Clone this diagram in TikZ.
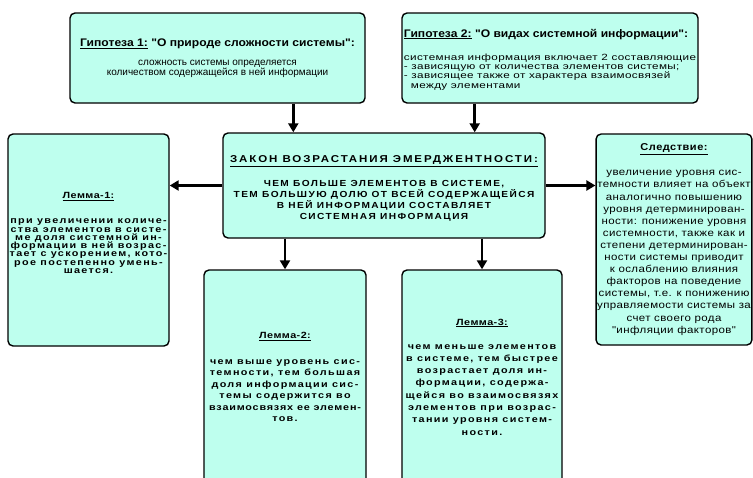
\documentclass[tikz,border=0pt]{standalone}
\usepackage{fontspec}
\setmainfont{Liberation Sans}[Ligatures=TeXOff]
\usetikzlibrary{arrows.meta}
\definecolor{boxfill}{RGB}{190,255,238}
\setlength{\lineskiplimit}{-20pt}
\newcommand{\hypfont}{\bfseries\fontsize{11}{11}\selectfont\addfontfeatures{FakeStretch=1.1,LetterSpace=0}}
\newcommand{\lemfont}{\bfseries\fontsize{9}{9}\selectfont\addfontfeatures{FakeStretch=1.2,LetterSpace=5}}
\tikzset{
  box/.style = {draw, line width=1.4pt, rounded corners=5pt, fill=boxfill,
    align=center, inner sep=1pt},
  link/.style = {line width=2.6pt, -{Triangle[length=9pt,width=10pt]}},
  lemtext/.style = {font={\bfseries\fontsize{9}{#1}\selectfont\addfontfeatures{FakeStretch=1.2,LetterSpace=15}}},
}
\begin{document}
\begin{tikzpicture}[x=1pt, y=-1pt]
\path[use as bounding box, clip] (0,0) rectangle (753,477);
% hypotheses
\node[box, minimum width=295pt, minimum height=90pt,
  font={\fontsize{10}{10}\selectfont}] (hypA) at (217.5,58) {%
  {\hypfont\underline{Гипотеза 1:} "О природе сложности системы":}\\[9pt]
  сложность системы определяется\\количеством содержащейся в ней информации};
\node[box, align=left, minimum width=296pt, minimum height=90pt,
  font={\fontsize{9}{9.3}\selectfont\addfontfeatures{FakeStretch=1.3,LetterSpace=4}}] (hypB) at (550,58) {%
  {\hypfont\rule{0pt}{11pt}\underline{Гипотеза 2:} "О видах системной информации":}\\[13.7pt]
  системная информация включает 2 составляющие\\
  - зависящую от количества элементов системы;\\
  - зависящее также от характера взаимосвязей\\
  \hspace*{7pt}между элементами};
% law
\node[box, minimum width=322pt, minimum height=105pt,
  font={\bfseries\fontsize{8.8}{11}\selectfont\addfontfeatures{FakeStretch=1.15,LetterSpace=16}}] (law) at (384,185.5) {%
  {\fontsize{10}{11}\selectfont\addfontfeatures{LetterSpace=19}\rule{0pt}{13pt}\underline{ЗАКОН ВОЗРАСТАНИЯ ЭМЕРДЖЕНТНОСТИ:}}\\[13pt]
  ЧЕМ БОЛЬШЕ ЭЛЕМЕНТОВ В СИСТЕМЕ,\\ТЕМ БОЛЬШУЮ ДОЛЮ ОТ ВСЕЙ СОДЕРЖАЩЕЙСЯ\\
  В НЕЙ ИНФОРМАЦИИ СОСТАВЛЯЕТ\\СИСТЕМНАЯ ИНФОРМАЦИЯ};
% lemmas and corollary
\node[box, minimum width=161pt, minimum height=212pt, lemtext=8.3] (lemA) at (88.5,240) {%
  {\lemfont\underline{Лемма-1:}}\\[16.7pt]
  при увеличении количе-\\ства элементов в систе-\\ме доля системной ин-\\формации в ней возрас-\\тает с ускорением, кото-\\рое постепенно умень-\\шается.\\[5.7pt]\mbox{}};
\node[box, minimum width=154pt, minimum height=211pt,
  font={\fontsize{10}{12.1}\selectfont\addfontfeatures{FakeStretch=1.15,LetterSpace=4}}] (corol) at (674,239.5) {%
  {\bfseries\addfontfeatures{FakeStretch=1.1,LetterSpace=5}\underline{Следствие:}}\\[12.9pt]
  увеличение уровня сис-\\темности влияет на объект\\аналогично повышению\\уровня детерминирован-\\ности: понижение уровня\\системности, также как и\\степени детерминирован-\\ности системы приводит\\к ослаблению влияния\\факторов на поведение\\системы, т.е. к понижению\\управляемости системы за\\счет своего рода\\"инфляции факторов"};
\node[box, minimum width=162pt, minimum height=214pt, lemtext=11.5] (lemB) at (285,377) {%
  {\lemfont\underline{Лемма-2:}}\\[14.5pt]
  чем выше уровень сис-\\темности, тем большая\\доля информации сис-\\темы содержится во\\{\addfontfeatures{LetterSpace=9}взаимосвязях ее элемен-}\\тов.};
\node[box, minimum width=160pt, minimum height=214pt, lemtext=12.3] (lemC) at (482,377) {%
  {\lemfont\underline{Лемма-3:}}\\[11.7pt]
  чем меньше элементов\\в системе, тем быстрее\\возрастает доля ин-\\формации, содержа-\\щейся во взаимосвязях\\элементов при возрас-\\тании уровня систем-\\ности.};
% connectors
\coordinate (inA) at ([xshift=71pt]law.north west);
\coordinate (inB) at ([xshift=-71pt]law.north east);
\draw[link] (inA |- hypA.south) -- (inA);
\draw[link] (inB |- hypB.south) -- (inB);
\draw[link] (law.west) -- (law.west -| lemA.east);
\draw[link] (law.east) -- (law.east -| corol.west);
\draw[link] (law.south -| lemB.north) -- (lemB.north);
\draw[link] (law.south -| lemC.north) -- (lemC.north);
\end{tikzpicture}
\end{document}
